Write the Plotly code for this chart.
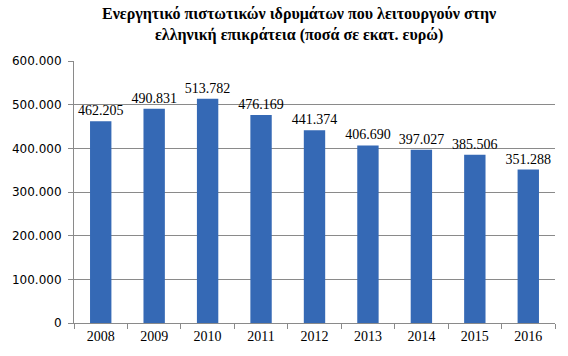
import plotly.graph_objects as go

years = ["2008", "2009", "2010", "2011", "2012", "2013", "2014", "2015", "2016"]
values = [462205, 490831, 513782, 476169, 441374, 406690, 397027, 385506, 351288]
title_lines = ["Ενεργητικό πιστωτικών ιδρυμάτων που λειτουργούν στην",
               "ελληνική επικράτεια (ποσά σε εκατ. ευρώ)"]

fig = go.Figure(go.Bar(
    x=years, y=values,
    marker=dict(color="#3569b5", line=dict(width=0)),
    text=[f"{v:,}".replace(",", ".") for v in values],
    textposition="outside",
    constraintext="none",
    textfont=dict(family="Liberation Serif", size=14, color="#000"),
    cliponaxis=False,
))

fig.update_layout(
    width=568, height=356,
    margin=dict(l=61, r=13, t=61, b=30),
    paper_bgcolor="white", plot_bgcolor="white",
    separators=",.",
    bargap=0.6,
    showlegend=False,
    annotations=[dict(text="<b>" + "<br>".join(title_lines) + "</b>",
                      x=0.467, xref="paper", xanchor="center",
                      y=1, yref="paper", yanchor="bottom", yshift=15,
                      showarrow=False, align="center",
                      font=dict(family="Liberation Serif", size=16, color="#000"))],
)
fig.update_yaxes(range=[0, 600000], dtick=100000, tickformat=",",
                 showgrid=True, gridcolor="#8a8a8a", gridwidth=1,
                 showline=True, linecolor="#8a8a8a", linewidth=1,
                 ticks="outside", ticklen=5, tickcolor="#8a8a8a",
                 ticklabelstandoff=4,
                 tickfont=dict(family="DejaVu Sans", size=12, color="#000"),
                 zeroline=False)
fig.update_xaxes(showline=True, linecolor="#8a8a8a", linewidth=1,
                 ticks="outside", ticklen=5, tickcolor="#8a8a8a",
                 tickson="boundaries",
                 tickfont=dict(family="Liberation Serif", size=14, color="#000"))

fig.write_html("out.html")
